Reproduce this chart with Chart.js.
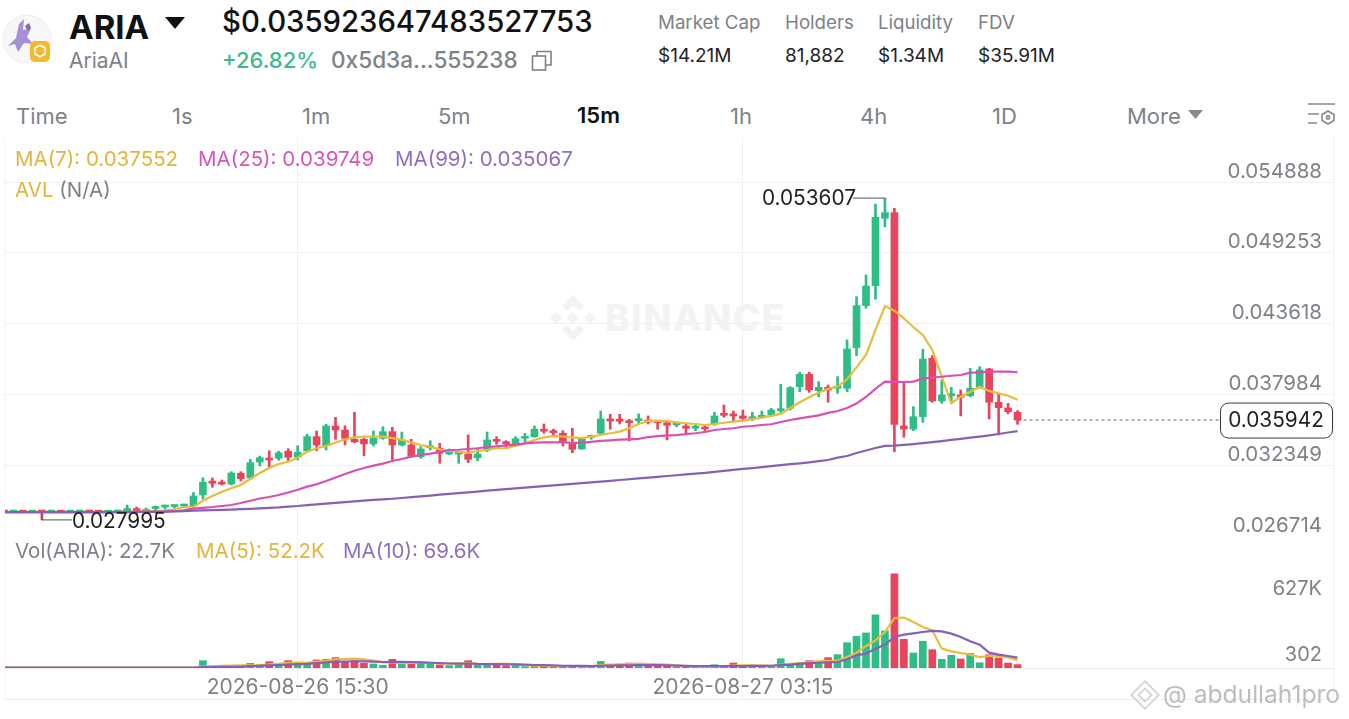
<!DOCTYPE html>
<html>
<head>
<meta charset="utf-8">
<title>ARIA</title>
<script src="https://cdn.jsdelivr.net/npm/chart.js@4"></script>
<style>
  html, body { margin: 0; padding: 0; background: #fff; width: 1349px; height: 719px; overflow: hidden; }
  body { position: relative; font-family: Inter, "Noto Sans", sans-serif; color: #1e2329; }
  .t { position: absolute; white-space: nowrap; line-height: 1; transform: translateY(-50%); }
  .grey { color: #7d8288; }
  canvas { position: absolute; }
  .tab { font-size: 22px; color: #7d8288; }
  .leg { font-size: 20.5px; }
  .hd { font-size: 18.7px; color: #7d8288; }
  .val { font-size: 19px; color: #1e2329; }
</style>
</head>
<body>

<svg style="position:absolute;left:0;top:10px" width="56" height="58" viewBox="0 0 56 58">
  <circle cx="27" cy="29" r="24" fill="#f7f6f9" stroke="#eeeeee"/>
  <path d="M8 36 L16 28 L19 14 L24 9 L23 20 L31 18 L27 27 L33 34 L24 33 L18 42 L15 34 Z" fill="#a68fd8"/>
  <path d="M25 16 l4 -3 l2 5 l-3 3 z" fill="#7a6bb0"/>
  <rect x="30" y="31" width="20" height="21" rx="5" fill="#f0bb2e"/>
  <path d="M40 35 l5 3 v6 l-5 3 l-5 -3 v-6 z" fill="none" stroke="#fff" stroke-width="1.5"/>
</svg>
<div class="t" style="left:69px;top:27px;font-size:33px;font-weight:700;color:#111">ARIA</div>
<svg style="position:absolute;left:165px;top:17px" width="20" height="13"><path d="M0 0 H20 L10 12 Z" fill="#111"/></svg>
<div class="t grey" style="left:69px;top:60px;font-size:21px">AriaAI</div>
<div class="t" style="left:222px;top:22px;font-size:29.3px;font-weight:500;color:#111">$0.035923647483527753</div>
<div class="t" style="left:222px;top:60px;font-size:22px;font-weight:500;color:#3dba8b">+26.82%</div>
<div class="t grey" style="left:331px;top:60px;font-size:22.6px;font-weight:500">0x5d3a...555238</div>
<svg style="position:absolute;left:531px;top:50px" width="22" height="22" fill="none" stroke="#7d8288" stroke-width="1.6">
  <rect x="1.5" y="6" width="13" height="14"/><path d="M6 6 V1.5 H20 V15 H14.5"/>
</svg>

<div class="t hd" style="left:658px;top:23px">Market Cap</div>
<div class="t hd" style="left:785px;top:23px">Holders</div>
<div class="t hd" style="left:878px;top:23px">Liquidity</div>
<div class="t hd" style="left:978px;top:23px">FDV</div>
<div class="t val" style="left:658px;top:55px">$14.21M</div>
<div class="t val" style="left:785px;top:55px">81,882</div>
<div class="t val" style="left:878px;top:55px">$1.34M</div>
<div class="t val" style="left:978px;top:55px">$35.91M</div>

<div class="t tab" style="left:16px;top:116px">Time</div>
<div class="t tab" style="left:172px;top:116px">1s</div>
<div class="t tab" style="left:302px;top:116px">1m</div>
<div class="t tab" style="left:438px;top:116px">5m</div>
<div class="t tab" style="left:577px;top:115px;font-weight:600;color:#111">15m</div>
<div class="t tab" style="left:730px;top:116px">1h</div>
<div class="t tab" style="left:860px;top:116px">4h</div>
<div class="t tab" style="left:992px;top:116px">1D</div>
<div class="t tab" style="left:1127px;top:116px">More</div>
<svg style="position:absolute;left:1188px;top:110px" width="16" height="10"><path d="M0 0 H15 L7.5 9 Z" fill="#85888c"/></svg>
<svg style="position:absolute;left:1307px;top:102px" width="30" height="26" fill="none" stroke="#85888c" stroke-width="1.6">
  <path d="M1 2 H28 M1 12 H12 M1 21 H10"/><path d="M21 9 l6 3.5 v6 l-6 3.5 l-6 -3.5 v-6 z"/><circle cx="21" cy="15.5" r="1.6"/>
</svg>

<svg style="position:absolute;left:548px;top:293px" width="50" height="50" viewBox="0 0 50 50" fill="#f3f3f3">
  <path d="M25 2 L36 13 L31 18 L25 12 L19 18 L14 13 Z M8 19 L14 25 L8 31 L2 25 Z M42 19 L48 25 L42 31 L36 25 Z M25 19 L31 25 L25 31 L19 25 Z M14 37 L19 32 L25 38 L31 32 L36 37 L25 48 Z"/>
</svg>
<div class="t" style="left:605px;top:317px;font-size:37px;font-weight:800;letter-spacing:1.5px;color:#f3f3f3">BINANCE</div>

<canvas id="priceChart" style="left:4px;top:137px" width="1329" height="399"></canvas>
<canvas id="volChart" style="left:4px;top:536px" width="1329" height="163"></canvas>

<div style="position:absolute;left:4px;top:137px;width:1330px;height:563px;border-right:1px solid #f0f0f0;border-left:1px solid #f4f4f4;border-bottom:1px solid #eeeeee;box-sizing:border-box;pointer-events:none"></div>

<div class="t leg" style="left:15px;top:159px;color:#e3b53b">MA(7): 0.037552</div>
<div class="t leg" style="left:198px;top:159px;color:#d955b8">MA(25): 0.039749</div>
<div class="t leg" style="left:395px;top:159px;color:#8e6fc0">MA(99): 0.035067</div>
<div class="t leg" style="left:15px;top:190px;color:#7d8288"><span style="color:#e3b53b">AVL</span> (N/A)</div>
<div class="t leg grey" style="left:15px;top:551px">Vol(ARIA): 22.7K</div>
<div class="t leg" style="left:196px;top:551px;color:#e3b53b">MA(5): 52.2K</div>
<div class="t leg" style="left:343px;top:551px;color:#8e6fc0">MA(10): 69.6K</div>

<svg style="position:absolute;left:1130px;top:680px" width="30" height="30" viewBox="0 0 50 50" fill="none" stroke="#d4d4d4" stroke-width="3">
  <path d="M25 2 L48 25 L25 48 L2 25 Z M25 14 L36 25 L25 36 L14 25 Z"/>
</svg>
<div class="t" style="left:1163px;top:694px;font-size:24.6px;color:#bdbdbd">@ abdullah1pro</div>

<script>
// candles, one per 15m, index 0 = 2026-08-26 07:45
const opens = [
  0.02864,0.02862,0.02863,0.02861,0.02863,0.02862,0.02863,0.02861,0.02862,0.02863,
  0.02862,0.02861,0.02862,0.02863,0.02890,0.02858,0.02890,0.02902,0.02906,0.02910,
  0.02910,0.02998,0.03109,0.03101,0.03085,0.03171,0.03133,0.03260,0.03292,0.03290,
  0.03346,0.03298,0.03348,0.03462,0.03390,0.03547,0.03515,0.03441,0.03441,0.03404,
  0.03449,0.03502,0.03396,0.03396,0.03303,0.03374,0.03370,0.03324,0.03324,0.03324,
  0.03295,0.03356,0.03441,0.03420,0.03404,0.03449,0.03462,0.03515,0.03507,0.03489,
  0.03404,0.03364,0.03457,0.03489,0.03600,0.03597,0.03589,0.03589,0.03589,0.03585,
  0.03573,0.03555,0.03547,0.03529,0.03537,0.03561,0.03645,0.03643,0.03627,0.03605,
  0.03616,0.03635,0.03669,0.03688,0.03860,0.03959,0.03828,0.03855,0.03847,0.03847,
  0.04170,0.04505,0.04664,0.05200,0.05245,0.03547,0.03523,0.03621,0.04086,0.03746,
  0.03788,0.03794,0.03788,0.03860,0.04001,0.03736,0.03690,0.03656
];
const closes = [
  0.02862,0.02863,0.02861,0.02863,0.02862,0.02863,0.02861,0.02862,0.02863,0.02862,
  0.02861,0.02862,0.02863,0.02890,0.02858,0.02882,0.02898,0.02910,0.02914,0.02918,
  0.02990,0.03099,0.03091,0.03085,0.03173,0.03128,0.03255,0.03295,0.03276,0.03334,
  0.03298,0.03338,0.03462,0.03396,0.03547,0.03515,0.03449,0.03420,0.03404,0.03449,
  0.03502,0.03396,0.03436,0.03303,0.03364,0.03390,0.03330,0.03334,0.03330,0.03282,
  0.03324,0.03436,0.03425,0.03406,0.03446,0.03462,0.03521,0.03505,0.03494,0.03414,
  0.03362,0.03444,0.03462,0.03603,0.03587,0.03585,0.03573,0.03605,0.03579,0.03573,
  0.03553,0.03563,0.03529,0.03537,0.03523,0.03627,0.03632,0.03627,0.03608,0.03616,
  0.03632,0.03674,0.03682,0.03852,0.03959,0.03834,0.03855,0.03834,0.03865,0.04160,
  0.04505,0.04661,0.05208,0.05245,0.03560,0.03523,0.03621,0.04080,0.03746,0.03794,
  0.03799,0.03776,0.03847,0.03993,0.03736,0.03693,0.03661,0.035942
];
const highs = [
  0.02870,0.02868,0.02868,0.02866,0.02868,0.02867,0.02868,0.02866,0.02868,0.02868,
  0.02867,0.02866,0.02868,0.02918,0.02902,0.02894,0.02910,0.02918,0.02918,0.02926,
  0.03018,0.03135,0.03133,0.03117,0.03183,0.03183,0.03282,0.03308,0.03350,0.03346,
  0.03366,0.03390,0.03481,0.03507,0.03561,0.03616,0.03549,0.03656,0.03449,0.03507,
  0.03541,0.03537,0.03499,0.03441,0.03382,0.03430,0.03409,0.03364,0.03340,0.03475,
  0.03370,0.03499,0.03462,0.03430,0.03462,0.03489,0.03547,0.03563,0.03521,0.03510,
  0.03529,0.03457,0.03475,0.03666,0.03640,0.03640,0.03600,0.03643,0.03627,0.03589,
  0.03581,0.03579,0.03563,0.03553,0.03547,0.03656,0.03714,0.03666,0.03674,0.03656,
  0.03666,0.03688,0.03879,0.03860,0.03975,0.03975,0.03900,0.03873,0.03940,0.04232,
  0.04576,0.04749,0.05314,0.053607,0.05280,0.03887,0.03701,0.04158,0.04107,0.03913,
  0.03855,0.03834,0.04006,0.04019,0.04006,0.03807,0.03727,0.03669
];
const lows = [
  0.02857,0.02856,0.02855,0.02856,0.027995,0.02857,0.02856,0.02856,0.02857,0.02857,
  0.02856,0.02856,0.02857,0.02855,0.02847,0.02850,0.02878,0.02886,0.02894,0.02902,
  0.02898,0.02964,0.03059,0.03077,0.03077,0.03109,0.03123,0.03229,0.03210,0.03274,
  0.03263,0.03276,0.03340,0.03350,0.03356,0.03441,0.03396,0.03414,0.03311,0.03388,
  0.03441,0.03276,0.03388,0.03298,0.03290,0.03356,0.03250,0.03319,0.03250,0.03255,
  0.03271,0.03342,0.03401,0.03377,0.03398,0.03420,0.03457,0.03489,0.03467,0.03388,
  0.03334,0.03362,0.03441,0.03475,0.03521,0.03563,0.03428,0.03563,0.03563,0.03521,
  0.03436,0.03541,0.03489,0.03510,0.03507,0.03553,0.03616,0.03585,0.03589,0.03589,
  0.03608,0.03627,0.03648,0.03674,0.03820,0.03815,0.03780,0.03736,0.03807,0.03820,
  0.04107,0.04484,0.04556,0.05133,0.03342,0.03457,0.03510,0.03576,0.03736,0.03728,
  0.03728,0.03627,0.03780,0.03847,0.03603,0.03476,0.03643,0.03560
];
const ma7 = [
  0.02862,0.02862,0.02862,0.02862,0.02862,0.02862,0.02862,0.02862,0.02862,0.02862,
  0.02862,0.02862,0.02862,0.02864,0.02866,0.02868,0.02870,0.02874,0.02886,0.02900,
  0.02904,0.02952,0.02990,0.03024,0.03051,0.03077,0.03125,0.03173,0.03213,0.03245,
  0.03263,0.03295,0.03342,0.03370,0.03388,0.03414,0.03441,0.03457,0.03462,0.03462,
  0.03462,0.03451,0.03436,0.03417,0.03396,0.03382,0.03361,0.03350,0.03342,0.03334,
  0.03348,0.03356,0.03370,0.03370,0.03388,0.03409,0.03436,0.03457,0.03467,0.03462,
  0.03457,0.03451,0.03462,0.03475,0.03489,0.03502,0.03529,0.03563,0.03587,0.03589,
  0.03585,0.03576,0.03569,0.03563,0.03555,0.03563,0.03573,0.03581,0.03589,0.03600,
  0.03613,0.03627,0.03643,0.03690,0.03736,0.03776,0.03812,0.03842,0.03860,0.03919,
  0.04014,0.04112,0.04311,0.04502,0.04465,0.04404,0.04333,0.04271,0.04152,0.03939,
  0.03728,0.03780,0.03820,0.03860,0.03826,0.03807,0.03788,0.037552
];
const ma25 = [
  0.02862,0.02862,0.02862,0.02862,0.02862,0.02862,0.02862,0.02862,0.02862,0.02862,
  0.02862,0.02862,0.02862,0.02862,0.02863,0.02863,0.02864,0.02866,0.02870,0.02875,
  0.02890,0.02896,0.02902,0.02910,0.02918,0.02934,0.02952,0.02970,0.02982,0.02998,
  0.03018,0.03040,0.03064,0.03083,0.03109,0.03137,0.03165,0.03191,0.03213,0.03231,
  0.03247,0.03268,0.03284,0.03303,0.03316,0.03327,0.03340,0.03356,0.03358,0.03364,
  0.03370,0.03380,0.03385,0.03393,0.03398,0.03409,0.03414,0.03417,0.03417,0.03417,
  0.03412,0.03412,0.03420,0.03428,0.03433,0.03438,0.03441,0.03444,0.03459,0.03467,
  0.03473,0.03475,0.03483,0.03489,0.03499,0.03515,0.03523,0.03529,0.03541,0.03547,
  0.03555,0.03561,0.03579,0.03595,0.03607,0.03619,0.03631,0.03651,0.03666,0.03690,
  0.03726,0.03778,0.03842,0.03900,0.03897,0.03897,0.03900,0.03924,0.03933,0.03939,
  0.03947,0.03953,0.03971,0.03974,0.03979,0.03979,0.03979,0.039749
];
const ma99 = [
  0.02862,0.02862,0.02862,0.02862,0.02862,0.02862,0.02862,0.02862,0.02862,0.02862,
  0.02862,0.02862,0.02863,0.02863,0.02864,0.02864,0.02865,0.02866,0.02868,0.02870,
  0.02873,0.02875,0.02877,0.02879,0.02882,0.02885,0.02888,0.02891,0.02895,0.02899,
  0.02905,0.02910,0.02917,0.02923,0.02929,0.02935,0.02941,0.02947,0.02953,0.02959,
  0.02963,0.02968,0.02974,0.02981,0.02987,0.02993,0.03000,0.03006,0.03012,0.03019,
  0.03025,0.03032,0.03038,0.03044,0.03050,0.03056,0.03062,0.03068,0.03074,0.03080,
  0.03086,0.03092,0.03098,0.03104,0.03110,0.03117,0.03123,0.03130,0.03136,0.03142,
  0.03149,0.03155,0.03162,0.03168,0.03174,0.03182,0.03190,0.03197,0.03205,0.03212,
  0.03220,0.03228,0.03235,0.03243,0.03250,0.03258,0.03267,0.03276,0.03295,0.03308,
  0.03332,0.03352,0.03372,0.03388,0.03390,0.03396,0.03403,0.03410,0.03418,0.03427,
  0.03436,0.03445,0.03454,0.03463,0.03472,0.03483,0.03495,0.035067
];
// volume in thousands
const volumes = [
  2,2,2,2,2,2,2,2,2,2,2,2,2,3,3,3,2,2,2,3,
  3,49,4,9,13,13,31,25,42,20,49,27,27,54,58,69,42,49,31,27,
  18,58,27,31,31,27,20,16,20,49,20,18,31,16,18,9,13,13,13,13,
  7,13,7,44,22,22,33,22,22,22,11,7,7,7,9,22,13,33,13,9,
  9,18,62,25,35,49,33,69,89,169,211,234,354,247,627,191,100,178,122,58,
  85,60,98,35,89,67,33,22.7
];
const volMa5 = [
  2,2,2,2,2,2,2,2,2,2,2,2,2,2,2,3,3,3,3,3,
  3,10,12,15,16,18,17,17,25,28,35,36,35,42,48,57,60,62,58,50,
  38,37,32,34,37,34,31,30,29,34,27,26,28,27,24,20,15,15,13,13,
  12,12,11,20,23,24,26,29,26,24,22,17,13,11,8,10,11,16,18,18,
  16,15,22,27,33,40,44,47,49,73,102,147,184,240,333,336,307,273,251,129,
  111,100,89,73,80,80,71,52.2
];
const volMa10 = [
  2,2,2,2,2,2,2,2,2,2,2,2,2,2,2,2,2,2,2,2,
  3,6,6,7,8,9,12,14,18,20,23,26,28,33,37,42,42,45,44,43,
  40,41,41,40,38,35,33,30,29,30,27,26,26,25,24,22,20,19,18,15,
  14,14,13,15,16,17,18,19,19,19,18,16,14,13,12,13,13,13,13,14,
  14,15,19,22,28,32,35,38,40,58,84,96,129,156,207,222,231,240,247,244,
  229,207,178,156,102,89,80,69.6
];
const priceTicks = [0.026714, 0.032349, 0.037984, 0.043618, 0.049253, 0.054888];
const timeTickIndex = [31, 78];
const timeTickLabels = ['2026-08-26 15:30', '2026-08-27 03:15'];
const highLabel = { index: 93, value: 0.053607 };
const lowLabel = { index: 4, value: 0.027995 };
const lastPrice = 0.035942;
const volTickValues = [627, 0.302];
const volTickText = ['627K', '302'];

const UP = '#2ebd85';
const DOWN = '#e9445c';
const YELLOW = '#e8bd3a';
const PINK = '#d94fb5';
const PURPLE = '#8560b8';
const GRID = '#f1f1f1';
const XMAX = 140.3;

const candleColor = i => closes[i] >= opens[i] ? UP : DOWN;
const pts = arr => arr.map((y, x) => ({ x, y }));
const maLine = (arr, color, width, order) => ({
  type: 'line', data: pts(arr), borderColor: color, borderWidth: width,
  pointRadius: 0, tension: 0, order: order
});

const labelPlugin = {
  id: 'labelPlugin',
  afterDraw(chart) {
    const { ctx, scales: { x, y } } = chart;
    ctx.save();
    ctx.font = '20.8px Inter, sans-serif';
    ctx.textBaseline = 'middle';
    ctx.lineWidth = 1;

    // highest point
    const hx = x.getPixelForValue(highLabel.index), hy = y.getPixelForValue(highLabel.value);
    ctx.strokeStyle = '#4a5a55';
    ctx.beginPath(); ctx.moveTo(hx, hy); ctx.lineTo(hx - 32, hy); ctx.stroke();
    ctx.fillStyle = '#222';
    ctx.textAlign = 'right';
    ctx.fillText(highLabel.value.toFixed(6), hx - 29, hy + 1);

    // lowest point
    const lx = x.getPixelForValue(lowLabel.index), ly = y.getPixelForValue(lowLabel.value);
    ctx.beginPath(); ctx.moveTo(lx, ly - 7); ctx.lineTo(lx, ly); ctx.lineTo(lx + 30, ly); ctx.stroke();
    ctx.textAlign = 'left';
    ctx.fillText(lowLabel.value.toFixed(6), lx + 30, ly + 2);

    // last price line and box
    const px = x.getPixelForValue(closes.length - 1), py = y.getPixelForValue(lastPrice);
    const bx = chart.width - 113, bw = 112, bh = 35;
    ctx.setLineDash([3, 3]);
    ctx.strokeStyle = '#666';
    ctx.beginPath(); ctx.moveTo(px, py); ctx.lineTo(bx, py); ctx.stroke();
    ctx.setLineDash([]);
    ctx.fillStyle = '#fff';
    ctx.strokeStyle = '#3a3a3a';
    ctx.beginPath(); ctx.roundRect(bx + 0.5, py - bh / 2 + 0.5, bw, bh, 8); ctx.fill(); ctx.stroke();
    ctx.fillStyle = '#222';
    ctx.textAlign = 'center';
    ctx.fillText(lastPrice.toFixed(6), bx + bw / 2, py + 1);
    ctx.restore();
  }
};

new Chart(document.getElementById('priceChart'), {
  data: {
    datasets: [
      maLine(ma7, YELLOW, 2.2, 3),
      maLine(ma25, PINK, 2.2, 2),
      maLine(ma99, PURPLE, 2.2, 1),
      {
        type: 'bar', order: 4, grouped: false, barThickness: 7, minBarLength: 2,
        data: opens.map((o, x) => ({ x, y: [o, closes[x]] })),
        backgroundColor: opens.map((o, i) => candleColor(i))
      },
      {
        type: 'bar', order: 5, grouped: false, barThickness: 2,
        data: lows.map((l, x) => ({ x, y: [l, highs[x]] })),
        backgroundColor: lows.map((l, i) => candleColor(i))
      }
    ]
  },
  plugins: [labelPlugin],
  options: {
    responsive: false,
    animation: false,
    layout: { padding: 0 },
    plugins: { legend: { display: false }, tooltip: { enabled: false } },
    scales: {
      x: {
        type: 'linear', min: 0, max: XMAX, offset: false,
        afterBuildTicks: s => { s.ticks = timeTickIndex.map(value => ({ value })); },
        afterFit: s => { s.height = 0; s.paddingLeft = 0; s.paddingRight = 0; },
        grid: { color: GRID, drawTicks: false, offset: false },
        border: { display: false },
        ticks: { display: false }
      },
      y: {
        position: 'right',
        min: 0.026714, max: 0.058471,
        afterBuildTicks: s => { s.ticks = priceTicks.map(value => ({ value })); },
        afterFit: s => { s.width = 0; s.paddingTop = 0; s.paddingBottom = 0; },
        grid: { color: GRID, drawTicks: false },
        border: { display: false },
        ticks: {
          mirror: true, padding: -11, labelOffset: -10.5, z: 1, autoSkip: false,
          color: '#7d8288', font: { family: 'Inter', size: 20.5 },
          callback: v => v.toFixed(6)
        }
      }
    }
  }
});

const volLabelPlugin = {
  id: 'volLabelPlugin',
  afterDraw(chart) {
    const { ctx, scales: { y }, chartArea } = chart;
    ctx.save();
    ctx.font = '20px Inter, sans-serif';
    ctx.fillStyle = '#7d8288';
    ctx.textAlign = 'right';
    ctx.textBaseline = 'middle';
    volTickValues.forEach((v, i) => {
      // labels sit inside the pane, top one below its value, bottom one above
      const off = i === 0 ? 15 : -13;
      ctx.fillText(volTickText[i], chartArea.right - 11, y.getPixelForValue(v) + off);
    });
    ctx.restore();
  }
};

new Chart(document.getElementById('volChart'), {
  data: {
    datasets: [
      maLine(volMa5, YELLOW, 2.2, 2),
      maLine(volMa10, PURPLE, 2.2, 1),
      {
        type: 'bar', order: 3, barThickness: 7,
        data: pts(volumes),
        backgroundColor: volumes.map((v, i) => candleColor(i))
      }
    ]
  },
  plugins: [volLabelPlugin],
  options: {
    responsive: false,
    animation: false,
    layout: { padding: 0 },
    plugins: { legend: { display: false }, tooltip: { enabled: false } },
    scales: {
      x: {
        type: 'linear', min: 0, max: XMAX, offset: false,
        afterBuildTicks: s => { s.ticks = timeTickIndex.map(value => ({ value })); },
        afterFit: s => { s.height = 31; s.paddingLeft = 0; s.paddingRight = 0; },
        grid: { color: GRID, tickLength: 31, tickColor: GRID, offset: false },
        border: { color: '#eeeeee' },
        ticks: {
          maxRotation: 0, autoSkip: false, padding: -24,
          color: '#7d8288', font: { family: 'Inter', size: 21 },
          callback: v => timeTickLabels[timeTickIndex.indexOf(v)]
        }
      },
      y: {
        position: 'right',
        min: 0, max: 880,
        afterBuildTicks: s => { s.ticks = []; },
        afterFit: s => { s.width = 0; s.paddingTop = 0; s.paddingBottom = 0; },
        grid: { display: false },
        border: { display: false },
        ticks: { display: false }
      }
    }
  }
});
</script>
</body>
</html>
